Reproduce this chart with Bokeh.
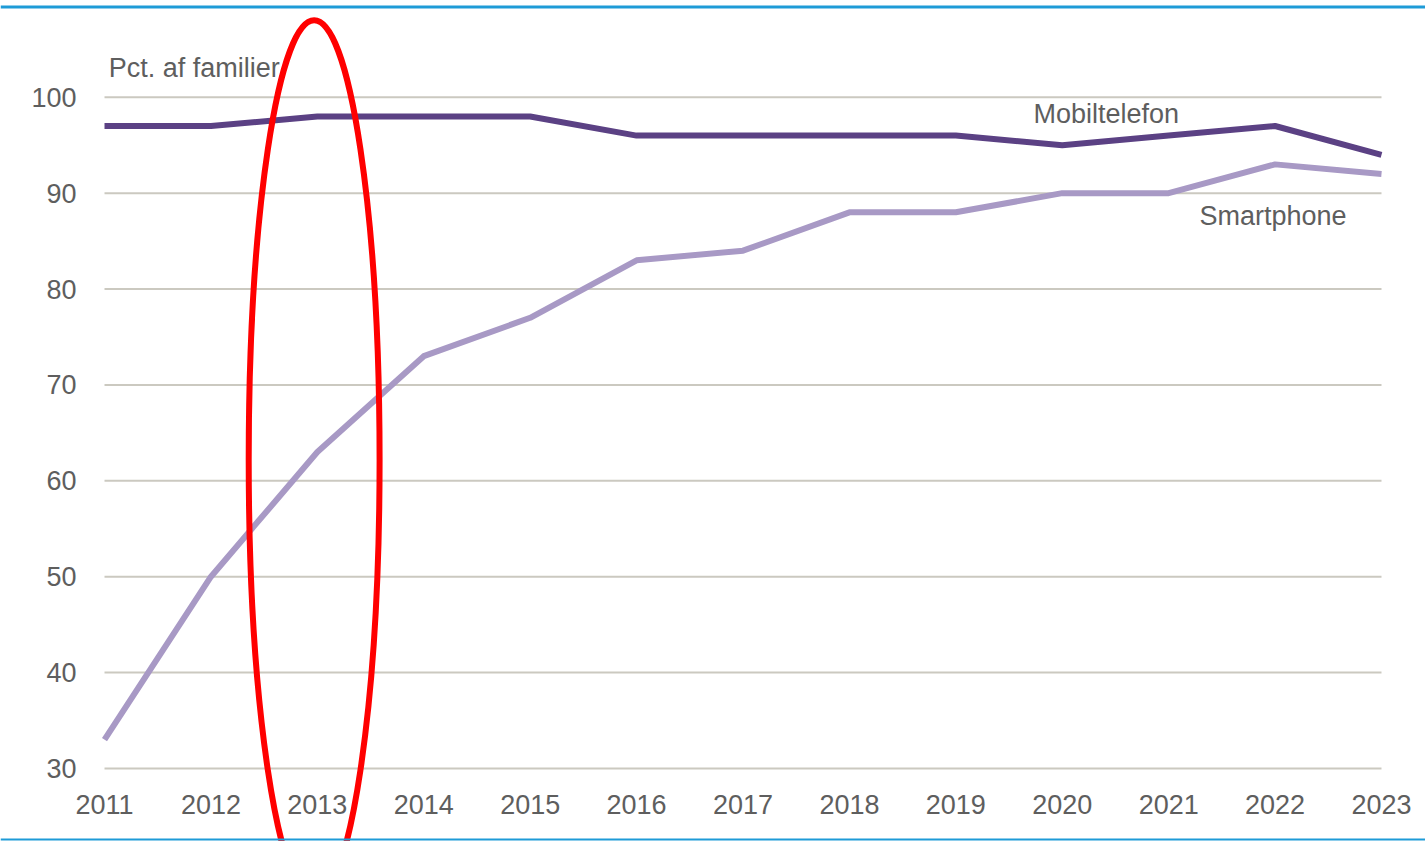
from bokeh.plotting import figure
from bokeh.models import LinearAxis, FixedTicker, Range1d, Span, ColumnDataSource
from bokeh.core.properties import value
from bokeh.embed import file_html
from bokeh.resources import INLINE

# ---- data ----
years = [2011, 2012, 2013, 2014, 2015, 2016, 2017, 2018, 2019, 2020, 2021, 2022, 2023]
mobiltelefon = [97, 97, 98, 98, 98, 96, 96, 96, 96, 95, 96, 97, 94]
smartphone = [33, 50, 63, 73, 77, 83, 84, 88, 88, 90, 90, 93, 92]
y_ticks = [30, 40, 50, 60, 70, 80, 90, 100]
unit_label = "Pct. af familier"
series_labels = ["Mobiltelefon", "Smartphone"]
highlight_year = 2013

FONT = "Liberation Sans"
FS = "27px"
TXT = "#5e5e5e"
DARK = "#5b4184"
LIGHT = "#a899c5"
GRID = "#cbc9c0"
BLUE = "#1e9bd7"

p = figure(width=1425, height=841, output_backend="svg", toolbar_location=None,
           x_range=Range1d(2010.0226, 2023.4135), y_range=Range1d(22.385, 110.09),
           x_axis_type=None, y_axis_type=None, min_border=0)
p.outline_line_color = None
p.background_fill_color = "white"
p.border_fill_color = "white"
p.xgrid.visible = False
p.ygrid.visible = False

# gridlines spanning first to last year
p.segment(x0=[years[0]] * len(y_ticks), x1=[years[-1]] * len(y_ticks), y0=y_ticks, y1=y_ticks,
          line_color=GRID, line_width=2)

# axes drawn inside the frame
yax = LinearAxis(ticker=FixedTicker(ticks=y_ticks), fixed_location=years[0])
yax.axis_line_color = None
yax.major_tick_line_color = None
yax.minor_tick_line_color = None
yax.major_tick_out = 0
yax.major_tick_in = 0
yax.major_label_standoff = 28
yax.major_label_text_font = FONT
yax.major_label_text_font_size = FS
yax.major_label_text_color = TXT
p.add_layout(yax, "left")

xax = LinearAxis(ticker=FixedTicker(ticks=years), fixed_location=y_ticks[0])
xax.axis_line_color = None
xax.major_tick_line_color = None
xax.minor_tick_line_color = None
xax.major_tick_out = 0
xax.major_tick_in = 0
xax.major_label_standoff = 27
xax.major_label_text_font = FONT
xax.major_label_text_font_size = FS
xax.major_label_text_color = TXT
p.add_layout(xax, "below")

src = ColumnDataSource(dict(year=years, mob=mobiltelefon, smart=smartphone))
p.line("year", "smart", source=src, line_color=LIGHT, line_width=6, line_join="round")
p.line("year", "mob", source=src, line_color=DARK, line_width=6, line_join="round")

# labels
p.text(x=[2011.04], y=[103.1], text=[unit_label], text_font=value(FONT),
       text_font_size=FS, text_color=TXT, text_baseline="alphabetic", text_align="left")
p.text(x=[2019.73, 2021.29], y=[98.3, 87.65], text=series_labels, text_font=value(FONT),
       text_font_size=FS, text_color=TXT, text_baseline="alphabetic", text_align="left")

# blue rules top and bottom
p.add_layout(Span(location=109.42, dimension="width", line_color=BLUE, line_width=3))
p.add_layout(Span(location=22.6, dimension="width", line_color=BLUE, line_width=2))

# red highlight ellipse around 2013
p.ellipse(x=[highlight_year - 0.03], y=[62.2], width=[1.23], height=[91.7],
          fill_color=None, line_color="#ff0000", line_width=6)

open("out.html", "w").write(file_html(p, INLINE))
